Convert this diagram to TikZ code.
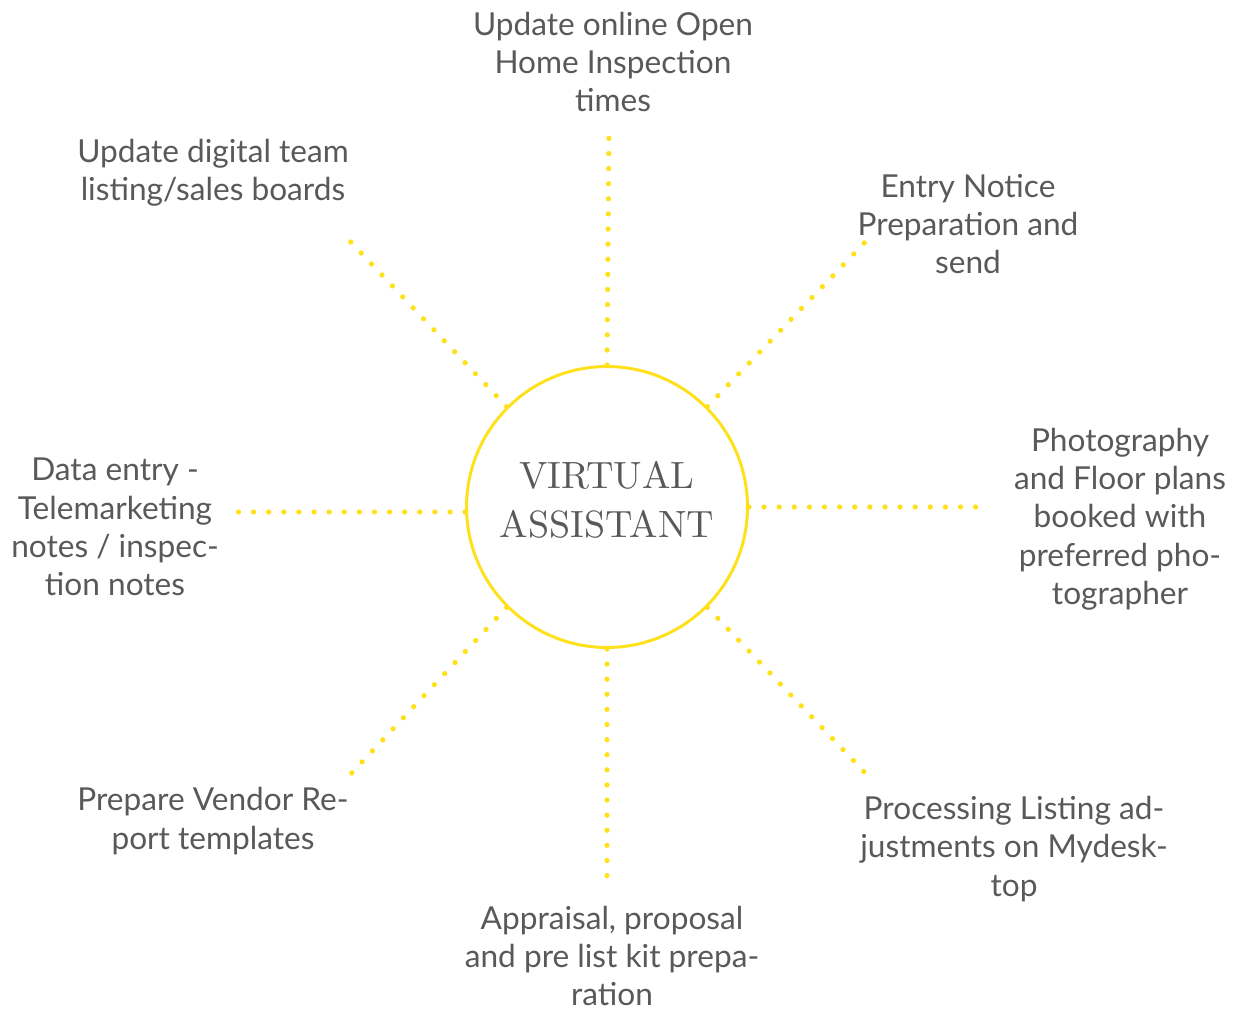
\documentclass[tikz,border=0pt]{standalone}
\usepackage{fontspec}
\newfontfamily\latofont{Lato}
\newfontfamily\vafont{lmroman10-regular.otf}
\usetikzlibrary{calc}
\definecolor{vagray}{HTML}{595959}
\definecolor{vayellow}{HTML}{FFE11B}
\tikzset{
  dotline/.style={vayellow, line width=3pt, line cap=round, dash pattern=on 0pt off 8.6pt},
  tasklabel/.style={text=vagray, align=center, inner sep=0pt,
    font=\latofont\fontsize{18}{21.8}\selectfont},
}

\begin{document}
\begin{tikzpicture}[x=0.02cm,y=-0.02cm]
\useasboundingbox (0,0) rectangle (1239,1010);

%%%%%%%%%%%%%%%%%%%%%%%%%%%%%%%%%%%%%%%%%%%%%%%%%%%%%%%%%%%%%% centre
\node[circle, draw=vayellow, line width=1.7pt, minimum size=5.62cm, inner sep=0pt] (VA) at (607,507) {};
\node[text=vagray, align=center, inner sep=0pt, font=\vafont\fontsize{21.6}{27.8}\selectfont] (VAtext) at (607,500) {VIRTUAL\\ASSISTANT};

%%%%%%%%%%%%%%%%%%%%%%%%%%%%%%%%%%%%%%%%%%%%%%%%%%%%%%%%%%%%%% ends of the dotted lines
\coordinate (eN) at (609,125);
\coordinate (eNE) at (870,237);
\coordinate (eE) at (982,507);
\coordinate (eSE) at (870,778);
\coordinate (eS) at (607,890);
\coordinate (eSW) at (348,777);
\coordinate (eW) at (237,512);
\coordinate (eNW) at (346,237);

\draw[dotline] (VA.90) -- (eN);
\draw[dotline] (VA.45) -- (eNE);
\draw[dotline] (VA.0) -- (eE);
\draw[dotline] (VA.-45) -- (eSE);
\draw[dotline] (VA.-90) -- (eS);
\draw[dotline] (VA.-135) -- (eSW);
\draw[dotline] (VA.182) -- (eW);
\draw[dotline] (VA.135) -- (eNW);

%%%%%%%%%%%%%%%%%%%%%%%%%%%%%%%%%%%%%%%%%%%%%%%%%%%%%%%%%%%%%% tasks
\node[tasklabel] (tN) at (613,62) {Update online Open\\Home Inspection\\times};
\node[tasklabel] (tNE) at (968,224) {Entry Notice\\Preparation and\\send};
\node[tasklabel] (tE) at (1120,519) {Photography\\and Floor plans\\booked with\\preferred pho-\\tographer};
\node[tasklabel] (tSE) at (1014,849) {Processing Listing ad-\\justments on Mydesk-\\top};
\node[tasklabel] (tS) at (612,956) {Appraisal, proposal\\and pre list kit prepa-\\ration};
\node[tasklabel] (tSW) at (213,821) {Prepare Vendor Re-\\port templates};
\node[tasklabel] (tW) at (115,527) {Data entry -\\Telemarketing\\notes / inspec-\\tion notes};
\node[tasklabel] (tNW) at (213,173) {Update digital team\\listing/sales boards};

\end{tikzpicture}
\end{document}
